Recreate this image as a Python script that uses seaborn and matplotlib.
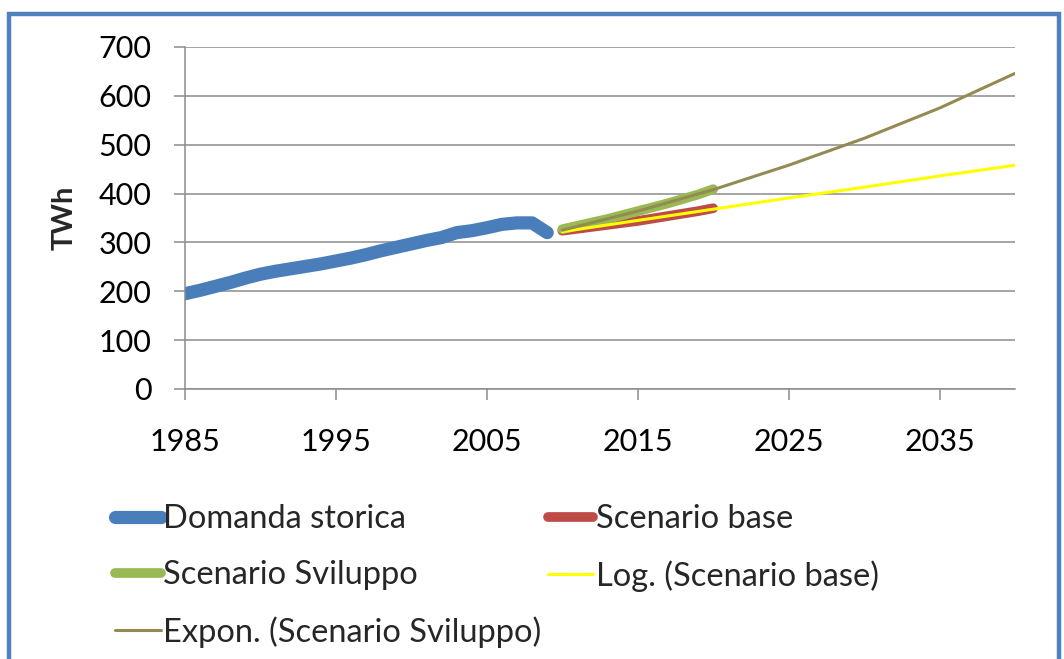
import matplotlib
matplotlib.use("Agg")
import matplotlib.pyplot as plt
import seaborn as sns
import pandas as pd
from matplotlib.patches import Rectangle

# ---- data ----
hist_years = list(range(1985, 2010))
hist_twh = [195, 202, 210, 218, 227, 235, 241, 246, 251, 256, 262, 268, 275, 283, 290,
            297, 304, 310, 320, 324, 330, 337, 340, 340, 320]

scen_years = list(range(2010, 2021))
base_twh = [324, 328, 332, 336, 340, 344, 349, 354, 359, 364, 370]
svil_twh = [327, 334, 341, 348, 356, 364, 372, 380, 389, 398, 409]

trend_years = [2010, 2015, 2020, 2025, 2030, 2035, 2040]
log_base_twh = [322, 345, 368, 391, 413, 436, 458]
exp_svil_twh = [325, 364, 408, 458, 513, 575, 646]

x_ticks = [1985, 1995, 2005, 2015, 2025, 2035]
y_ticks = [0, 100, 200, 300, 400, 500, 600, 700]

labels = ["Domanda storica", "Scenario base", "Scenario Sviluppo",
          "Log. (Scenario base)", "Expon. (Scenario Sviluppo)"]

# ---- style ----
sns.set_theme(style="white")
plt.rcParams["font.family"] = ["Lato", "DejaVu Sans"]

W, H = 1064, 659
fig = plt.figure(figsize=(W / 100, H / 100), dpi=100)
ax = fig.add_axes([185 / W, 1 - 389 / H, (1015 - 185) / W, (389 - 47) / H])

grid_c = "#8c8c8c"
blue, red, green, yellow, olive = "#4A7EBB", "#BE4B48", "#98B954", "#FFFF00", "#948A54"

sns.lineplot(x=hist_years, y=hist_twh, ax=ax, color=blue, linewidth=9.5,
             solid_capstyle="round", label=labels[0])
sns.lineplot(x=scen_years, y=base_twh, ax=ax, color=red, linewidth=7,
             solid_capstyle="round", label=labels[1])
sns.lineplot(x=scen_years, y=svil_twh, ax=ax, color=green, linewidth=7,
             solid_capstyle="round", label=labels[2])
sns.lineplot(x=trend_years, y=log_base_twh, ax=ax, color=yellow, linewidth=2.2,
             label=labels[3])
sns.lineplot(x=trend_years, y=exp_svil_twh, ax=ax, color=olive, linewidth=2.2,
             label=labels[4])

ax.set_xlim(1985, 2040)
ax.set_ylim(0, 700)
ax.set_xticks(x_ticks)
ax.set_yticks(y_ticks)
ax.yaxis.grid(True, color=grid_c, linewidth=1.1)
ax.xaxis.grid(False)
for s in ["top", "right"]:
    ax.spines[s].set_visible(False)
for s in ["left", "bottom"]:
    ax.spines[s].set_color(grid_c)
    ax.spines[s].set_linewidth(1.1)
ax.tick_params(axis="both", colors=grid_c, labelcolor="black", labelsize=22,
               length=8, width=1.1)
ax.tick_params(axis="y", left=True, pad=16)
ax.tick_params(axis="x", bottom=True, direction="out", pad=20)
ax.set_xlabel("")
ax.set_ylabel("TWh", fontsize=21, fontweight="bold", labelpad=15)

# legend: row-major order via column-major fill
h, l = ax.get_legend_handles_labels()
order = [0, 2, 4, 1, 3]
ax.legend([h[i] for i in order], [l[i] for i in order], ncol=2,
          loc="upper left", bbox_to_anchor=(115 / W, 1 - 504 / H),
          bbox_transform=fig.transFigure, frameon=False, fontsize=23.5,
          handlelength=1.4, handletextpad=0.08, columnspacing=0.19,
          labelspacing=0.8, borderaxespad=0, borderpad=0)

# blue frame around the chart
fig.patches.append(Rectangle((9 / W, -0.1), (1059 - 9) / W, 1.1 - 14 / H,
                             transform=fig.transFigure, fill=False,
                             edgecolor="#4F81BD", linewidth=3.2, zorder=10))

fig.savefig("out.png", dpi=100)
